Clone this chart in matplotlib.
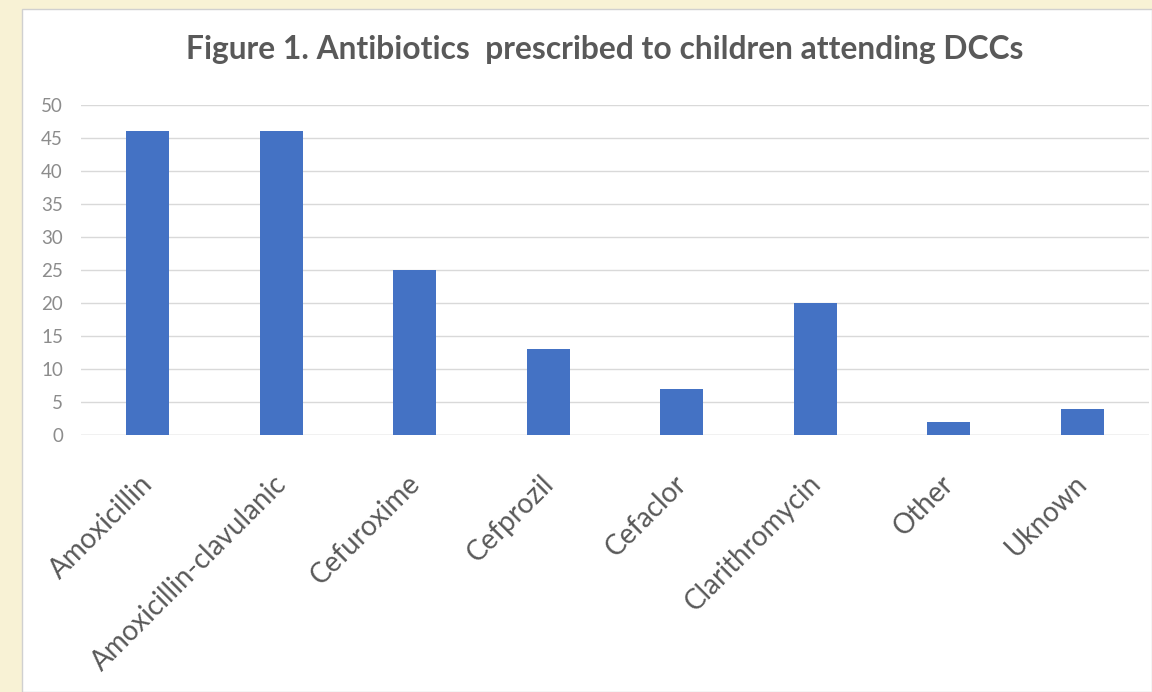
import matplotlib
matplotlib.use("Agg")
import matplotlib.pyplot as plt
from matplotlib.patches import Rectangle
import matplotlib.transforms as mtransforms

categories = ["Amoxicillin", "Amoxicillin-clavulanic", "Cefuroxime", "Cefprozil",
              "Cefaclor", "Clarithromycin", "Other", "Uknown"]
counts = [46, 46, 25, 13, 7, 20, 2, 4]
y_ticks = [0, 5, 10, 15, 20, 25, 30, 35, 40, 45, 50]
title = "Figure 1. Antibiotics  prescribed to children attending DCCs"

bar_color = "#4472C4"
tick_gray = "#8C8C8C"
label_gray = "#595959"
title_gray = "#595959"
font = "Lato"

fig = plt.figure(figsize=(11.52, 6.92), dpi=100)
fig.patch.set_facecolor("#F8F2D5")

# white chart panel behind the axes
panel = Rectangle((22 / 1152, 0), 1 - 22 / 1152, 1 - 9 / 692,
                  transform=fig.transFigure, facecolor="white",
                  edgecolor="#D0D0D0", linewidth=1.0, zorder=-5)
fig.patches.append(panel)

ax = fig.add_axes([81 / 1152, 257 / 692, (1149 - 81) / 1152, (587 - 257) / 692])
ax.set_facecolor("none")
ax.set_zorder(2)

x = list(range(len(categories)))
ax.bar(x, counts, width=0.32, color=bar_color, zorder=3)

ax.set_xlim(-0.5, len(categories) - 0.5)
ax.set_ylim(0, 50)
ax.set_yticks(y_ticks)
ax.set_yticklabels([str(v) for v in y_ticks], family=font, fontsize=13.5, color=tick_gray)
ax.yaxis.grid(True, color="#D9D9D9", linewidth=1.0, zorder=0)
ax.tick_params(axis="y", length=0, pad=13)
ax.tick_params(axis="x", length=0, pad=4)
for s in ax.spines.values():
    s.set_visible(False)
ax.axhline(0, color="#D9D9D9", linewidth=1.0, zorder=2)

ax.set_xticks(x)
labels = ax.set_xticklabels(categories, rotation=45, ha="right",
                            rotation_mode="anchor", family=font,
                            fontsize=20, color=label_gray)
offset = mtransforms.ScaledTranslation(-8 / 100, -30 / 100, fig.dpi_scale_trans)
for lab in labels:
    lab.set_transform(lab.get_transform() + offset)

fig.text(0.525, 1 - 50 / 692, title, ha="center", va="center",
         family=font, fontsize=22.9, fontweight="bold", color=title_gray)

fig.savefig("out.png", dpi=100)
